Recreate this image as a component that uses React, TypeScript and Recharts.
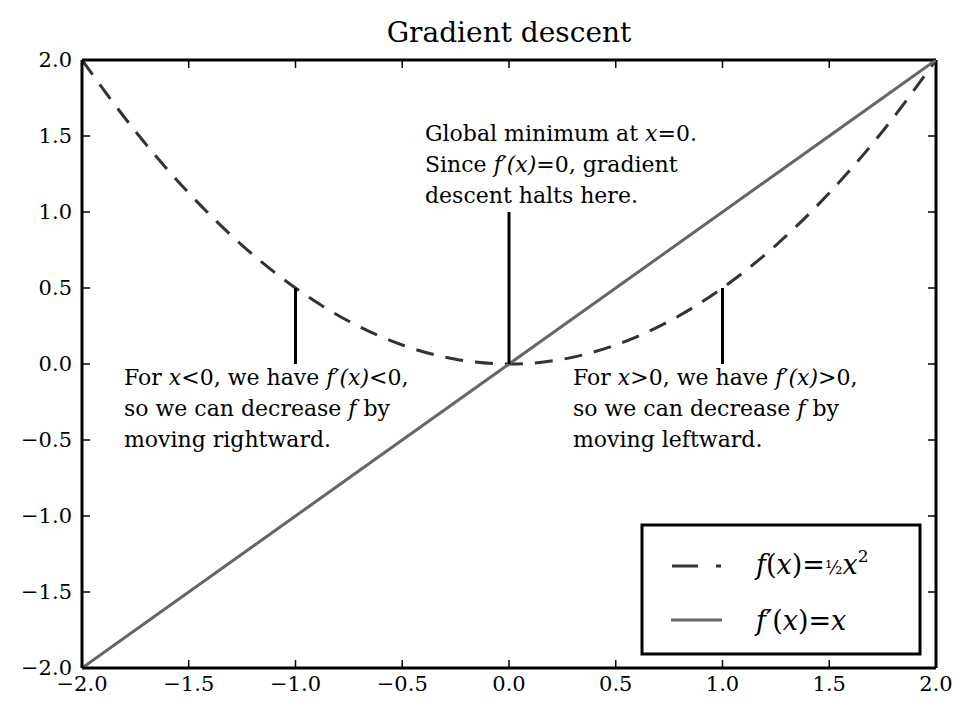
import React from "react";
import { ComposedChart, Line, XAxis, YAxis, ReferenceLine } from "recharts";

const xs = [-2, -1.75, -1.5, -1.25, -1, -0.75, -0.5, -0.25, 0, 0.25, 0.5, 0.75, 1, 1.25, 1.5, 1.75, 2];
const fVals = [2, 1.531, 1.125, 0.781, 0.5, 0.281, 0.125, 0.031, 0, 0.031, 0.125, 0.281, 0.5, 0.781, 1.125, 1.531, 2];
const dfVals = [-2, -1.75, -1.5, -1.25, -1, -0.75, -0.5, -0.25, 0, 0.25, 0.5, 0.75, 1, 1.25, 1.5, 1.75, 2];
const xTicks = [-2, -1.5, -1, -0.5, 0, 0.5, 1, 1.5, 2];
const yTicks = [-2, -1.5, -1, -0.5, 0, 0.5, 1, 1.5, 2];
const arrows = [
  { x: -1, y0: 0, y1: 0.5 },
  { x: 0, y0: 0, y1: 1.0 },
  { x: 1, y0: 0, y1: 0.5 },
];

const data = xs.map((x, i) => ({ x, f: fVals[i], df: dfVals[i] }));
const FONT = "DejaVu Serif";
const fmt = (v: number) => (v < 0 ? "\u2212" + Math.abs(v).toFixed(1) : v.toFixed(1));
const tx = 8 / 854 * 4;
const ty = 8 / 608 * 4;

const I = (s: string) => <tspan fontStyle="italic">{s}</tspan>;

export default function App() {
  return (
    <div style={{ position: "relative", width: 953, height: 695 }}>
      <ComposedChart width={953} height={695} data={data} margin={{ top: 52, left: 14, right: 25, bottom: 5 }}>
        <XAxis dataKey="x" type="number" domain={[-2, 2]} ticks={xTicks} tickFormatter={fmt} tickLine={false}
          axisLine={{ stroke: "#000", strokeWidth: 3 }} height={30} tickMargin={2}
          tick={{ fill: "#000", fontSize: 21, fontFamily: FONT }} allowDataOverflow />
        <YAxis type="number" domain={[-2, 2]} ticks={yTicks} tickFormatter={fmt} tickLine={false}
          axisLine={{ stroke: "#000", strokeWidth: 3 }} width={60} tickMargin={4}
          tick={{ fill: "#000", fontSize: 21, fontFamily: FONT }} allowDataOverflow />
        <ReferenceLine y={2} stroke="#000" strokeWidth={3} />
        <ReferenceLine x={2} stroke="#000" strokeWidth={3} />
        {xTicks.slice(1, -1).map((t) => (
          <ReferenceLine key={"xb" + t} segment={[{ x: t, y: -2 }, { x: t, y: -2 + ty }]} stroke="#000" strokeWidth={1.5} />
        ))}
        {xTicks.slice(1, -1).map((t) => (
          <ReferenceLine key={"xt" + t} segment={[{ x: t, y: 2 }, { x: t, y: 2 - ty }]} stroke="#000" strokeWidth={1.5} />
        ))}
        {yTicks.slice(1, -1).map((t) => (
          <ReferenceLine key={"yl" + t} segment={[{ x: -2, y: t }, { x: -2 + tx, y: t }]} stroke="#000" strokeWidth={1.5} />
        ))}
        {yTicks.slice(1, -1).map((t) => (
          <ReferenceLine key={"yr" + t} segment={[{ x: 2, y: t }, { x: 2 - tx, y: t }]} stroke="#000" strokeWidth={1.5} />
        ))}
        <Line dataKey="f" type="monotone" stroke="#333" strokeWidth={3} strokeDasharray="18 12" dot={false} isAnimationActive={false} />
        <Line dataKey="df" type="linear" stroke="#666" strokeWidth={3} dot={false} isAnimationActive={false} />
        {arrows.map((a) => (
          <ReferenceLine key={"a" + a.x} segment={[{ x: a.x, y: a.y0 }, { x: a.x, y: a.y1 }]} stroke="#000" strokeWidth={3} />
        ))}
      </ComposedChart>
      <svg width={953} height={695} style={{ position: "absolute", left: 0, top: 0, pointerEvents: "none", fontFamily: FONT }}
        fill="#000">
        <text x={501} y={34} fontSize={28} textAnchor="middle">Gradient descent</text>
        <g fontSize={22}>
          <text x={417} y={133}>Global minimum at {I("x")}=0.</text>
          <text x={417} y={164}>Since {I("f\u2032(x)")}=0, gradient</text>
          <text x={417} y={195}>descent halts here.</text>
          <text x={116} y={377}>For {I("x")}&lt;0, we have {I("f\u2032(x)")}&lt;0,</text>
          <text x={116} y={408}>so we can decrease {I("f")} by</text>
          <text x={116} y={439}>moving rightward.</text>
          <text x={565} y={377}>For {I("x")}&gt;0, we have {I("f\u2032(x)")}&gt;0,</text>
          <text x={565} y={408}>so we can decrease {I("f")} by</text>
          <text x={565} y={439}>moving leftward.</text>
        </g>
        <rect x={634} y={517} width={278} height={129} fill="#fff" stroke="#000" strokeWidth={3} />
        <line x1={664} y1={558} x2={690} y2={558} stroke="#333" strokeWidth={3} />
        <line x1={708} y1={558} x2={713} y2={558} stroke="#333" strokeWidth={3} />
        <line x1={663} y1={612} x2={714} y2={612} stroke="#666" strokeWidth={3} />
        <text x={748} y={566} fontSize={27}>{I("f")}({I("x")})=<tspan fontSize={18}>½</tspan>{I("x")}<tspan fontSize={17} dy={-12}>2</tspan></text>
        <text x={748} y={622} fontSize={27}>{I("f\u2032")}({I("x")})={I("x")}</text>
      </svg>
    </div>
  );
}
